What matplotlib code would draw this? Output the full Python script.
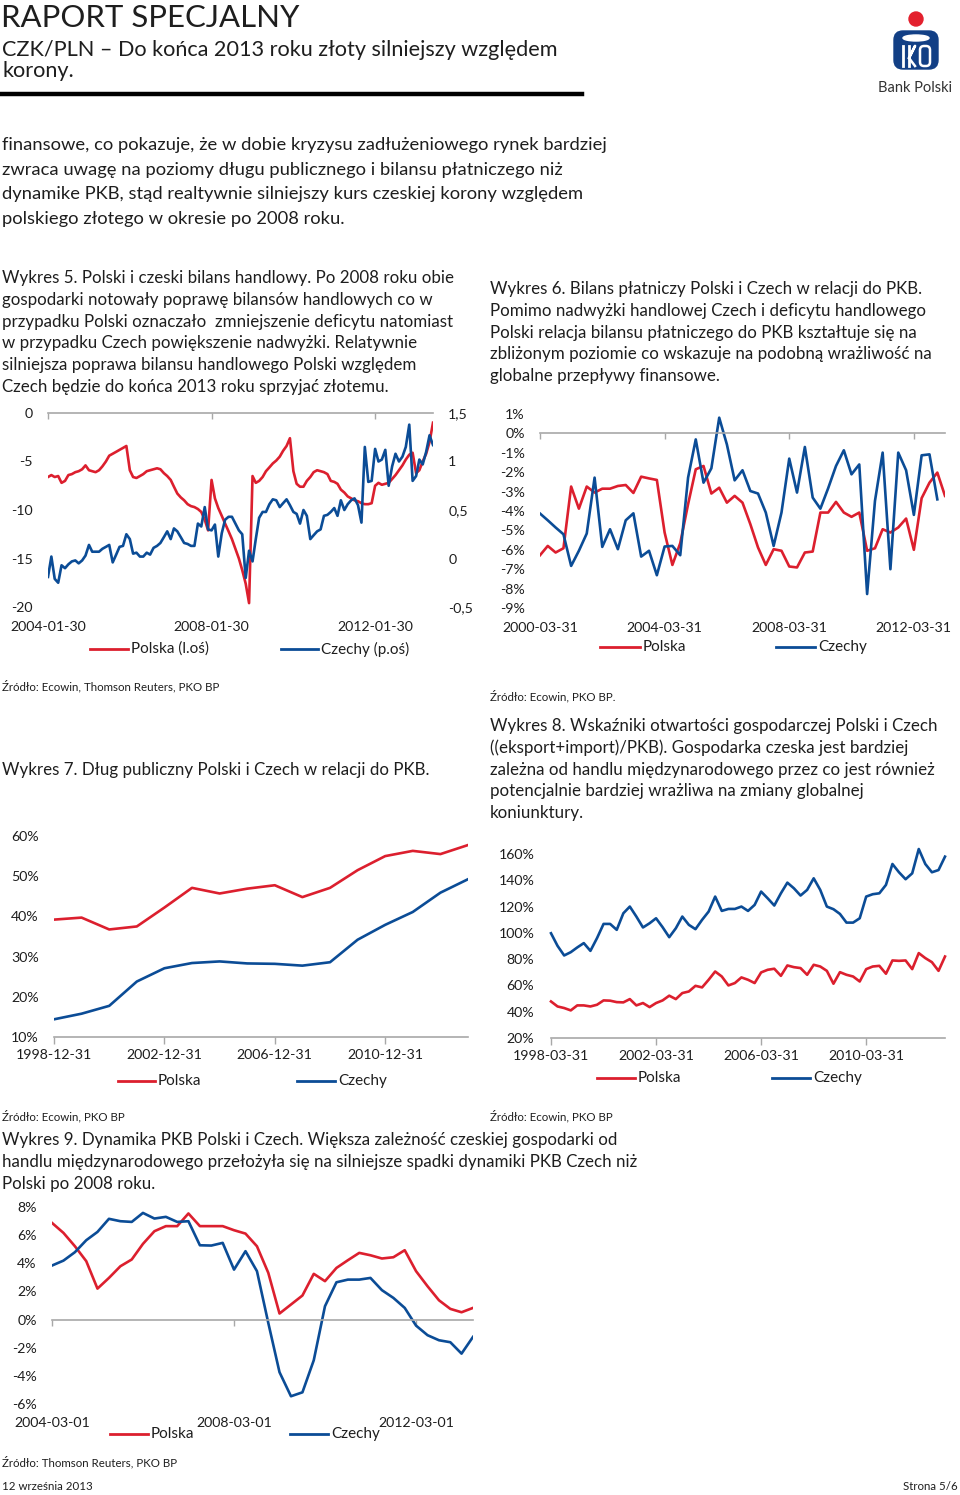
import numpy as np
import pandas as pd
import matplotlib
matplotlib.use("Agg")
import matplotlib.pyplot as plt
from matplotlib.lines import Line2D
from matplotlib.patches import Circle, FancyBboxPatch, Ellipse

W, H = 960, 1495
RED = "#dc1f2e"
BLUE = "#0b4c96"
GRAY = "#a8a8a8"
TXT = "#1e1e1e"
plt.rcParams["font.family"] = ["Lato", "DejaVu Sans"]

# Wykres 5: trade balance (monthly, 2004-01 .. 2013-06)
pl_trade = [-6.6, -6.4, -6.6, -6.5, -7.2, -7.0, -6.4, -6.3, -6.1, -6.0, -5.8, -5.4,
            -5.9, -6.0, -6.1, -5.9, -5.5, -5.0, -4.4, -4.2, -4.0, -3.8, -3.6, -3.4,
            -5.9, -6.6, -6.7, -6.5, -6.3, -6.0, -5.9, -5.8, -5.7, -5.8, -6.2, -6.5,
            -6.9, -7.6, -8.3, -8.7, -9.0, -9.4, -9.6, -9.7, -9.9, -10.2, -11.0, -12.1,
            -6.9, -8.8, -9.8, -10.6, -11.4, -12.2, -13.0, -14.0, -15.0, -16.2, -17.6, -19.6,
            -6.5, -7.2, -7.0, -6.6, -6.0, -5.6, -5.2, -4.9, -4.5, -3.9, -3.4, -2.6,
            -6.0, -7.3, -7.6, -7.6, -7.0, -6.6, -6.1, -5.9, -6.0, -6.1, -6.3, -7.0,
            -7.1, -7.3, -7.9, -8.2, -8.6, -8.8, -9.0, -9.1, -9.3, -9.4, -9.4, -9.3,
            -7.5, -7.2, -7.4, -7.3, -7.2, -6.8, -6.4, -5.9, -5.4, -4.8, -4.3, -4.1,
            -6.2, -5.9, -5.0, -4.2, -3.0, -1.0]
cz_trade = [-0.19, 0.02, -0.21, -0.25, -0.07, -0.10, -0.06, -0.03, -0.02, -0.05, -0.02, 0.03,
            0.14, 0.07, 0.07, 0.07, 0.10, 0.12, 0.14, -0.04, 0.04, 0.12, 0.13, 0.25,
            0.20, 0.05, 0.06, 0.02, 0.02, 0.06, 0.04, 0.11, 0.13, 0.16, 0.22, 0.28,
            0.20, 0.31, 0.28, 0.22, 0.16, 0.15, 0.13, 0.13, 0.36, 0.33, 0.53, 0.30,
            0.29, 0.35, 0.02, 0.26, 0.40, 0.43, 0.43, 0.36, 0.29, 0.25, -0.20, 0.08,
            -0.03, 0.20, 0.42, 0.48, 0.48, 0.56, 0.61, 0.60, 0.53, 0.57, 0.61, 0.55,
            0.48, 0.46, 0.36, 0.50, 0.44, 0.20, 0.24, 0.28, 0.30, 0.44, 0.45, 0.48,
            0.52, 0.44, 0.60, 0.50, 0.56, 0.60, 0.62, 0.55, 0.37, 1.15, 0.79, 0.80,
            1.13, 1.00, 1.02, 1.12, 0.75, 0.95, 1.08, 1.00, 1.05, 1.15, 1.38, 0.80,
            0.85, 1.02, 0.97, 1.10, 1.27, 1.17]
trade_dates = [pd.Timestamp("2004-01-30") + pd.DateOffset(months=i) for i in range(len(pl_trade))]

# Wykres 6: current account / GDP (quarterly, from 2000-03-31)
pl_ca = [-6.28, -5.8, -6.14, -5.92, -2.74, -3.88, -2.74, -3.05, -2.85, -2.85, -2.71, -2.66,
         -3.07, -2.23, -2.32, -2.4, -5.11, -6.78, -5.66, -3.65, -1.85, -1.68, -3.1, -2.8,
         -3.57, -3.22, -3.57, -4.68, -5.88, -6.78, -5.97, -6.05, -6.86, -6.91, -6.14, -6.09,
         -4.08, -4.08, -3.53, -4.08, -4.3, -4.08, -6.05, -5.92, -4.94, -5.11, -4.85, -4.39,
         -6.0, -3.34, -2.54, -2.02, -3.22]
cz_ca = [-4.13, -4.48, -4.85, -5.2, -6.83, -6.05, -5.16, -2.28, -5.85, -4.94, -5.97, -4.48,
         -4.12, -6.35, -6.05, -7.31, -5.83, -5.8, -6.28, -2.28, -0.31, -2.54, -1.8, 0.81,
         -0.57, -2.42, -1.9, -2.97, -3.1, -4.08, -5.8, -4.08, -1.3, -3.05, -0.7, -3.31,
         -3.88, -2.83, -1.68, -0.87, -2.11, -1.6, -8.28, -3.48, -0.99, -7.0, -0.99, -1.9,
         -4.2, -1.13, -1.08, -3.4]
ca_dates = [pd.Timestamp("2000-03-31") + pd.offsets.QuarterEnd(i) for i in range(len(pl_ca))]

# Wykres 7: public debt / GDP (annual, 1998..2013)
pl_debt = [39.2, 39.7, 36.75, 37.5, 42.2, 47.1, 45.7, 46.9, 47.75, 44.8, 47.1, 51.5,
           55.0, 56.3, 55.5, 57.75]
cz_debt = [14.4, 15.8, 17.75, 23.8, 27.1, 28.4, 28.8, 28.3, 28.2, 27.75, 28.6, 34.2,
           37.9, 41.1, 45.9, 49.25]
debt_dates = [pd.Timestamp("1998-12-31") + pd.offsets.YearEnd(i) for i in range(len(pl_debt))]

# Wykres 8: openness (quarterly, from 1998-03-31)
pl_open = [47.8, 44.0, 42.8, 41.0, 44.8, 44.8, 44.0, 45.3, 48.6, 48.4, 47.3, 47.1,
           49.6, 44.8, 46.6, 43.5, 46.6, 48.6, 52.2, 49.6, 54.2, 55.4, 59.7, 58.5,
           64.3, 70.6, 66.8, 60.0, 61.8, 66.1, 64.3, 61.8, 69.9, 71.9, 72.7, 67.3,
           75.2, 73.9, 73.2, 68.1, 75.7, 74.4, 71.1, 61.3, 70.1, 68.1, 66.8, 63.0,
           72.4, 74.4, 74.9, 68.9, 79.0, 78.7, 79.0, 72.4, 84.6, 80.8, 77.7, 71.1, 82.0]
cz_open = [99.7, 90.1, 82.8, 85.3, 88.9, 92.2, 86.3, 96.0, 106.8, 106.8, 102.3, 114.9,
           120.0, 112.4, 104.1, 107.3, 111.1, 104.3, 96.7, 103.5, 112.4, 106.1, 102.8, 109.9,
           116.2, 127.6, 116.7, 118.2, 118.2, 120.0, 116.7, 121.3, 131.4, 126.3, 120.8, 130.1,
           138.2, 133.9, 128.4, 132.7, 141.5, 132.7, 120.0, 118.0, 114.4, 107.8, 107.8, 111.1,
           127.6, 129.4, 130.1, 136.5, 152.4, 146.1, 140.8, 145.3, 163.8, 152.4, 146.1, 147.8,
           158.0]
open_dates = [pd.Timestamp("1998-03-31") + pd.offsets.QuarterEnd(i) for i in range(len(pl_open))]

# Wykres 9: GDP growth (quarterly, from 2004-03-01)
pl_gdp = [6.87, 6.16, 5.21, 4.15, 2.2, 2.96, 3.79, 4.27, 5.38, 6.28, 6.64, 6.64,
          7.54, 6.64, 6.64, 6.64, 6.35, 6.11, 5.21, 3.32, 0.43, 1.07, 1.71, 3.25,
          2.73, 3.67, 4.22, 4.74, 4.57, 4.34, 4.43, 4.93, 3.44, 2.37, 1.37, 0.76,
          0.52, 0.83]
cz_gdp = [3.84, 4.19, 4.79, 5.64, 6.23, 7.16, 6.99, 6.94, 7.58, 7.18, 7.30, 6.94,
          6.99, 5.28, 5.26, 5.45, 3.55, 4.86, 3.44, -0.24, -3.74, -5.45, -5.17, -2.89,
          0.95, 2.65, 2.84, 2.84, 2.96, 2.09, 1.54, 0.83, -0.43, -1.11, -1.47, -1.61,
          -2.42, -1.23]
gdp_dates = [pd.Timestamp("2004-03-01") + pd.DateOffset(months=3 * i) for i in range(len(pl_gdp))]

fig = plt.figure(figsize=(W / 100, H / 100), dpi=100)

TICK = 10.2   # tick label size
LEG = 11      # legend label size
CAP = 12.2    # chart caption size
SRC = 8.3     # source line size


def box(l, t, r, b):
    return fig.add_axes([l / W, 1 - b / H, (r - l) / W, (b - t) / H])


def ftext(x, y, s, size=11, **kw):
    kw.setdefault("color", TXT)
    kw.setdefault("va", "center")
    fig.text(x / W, 1 - y / H, s, fontsize=size, **kw)


def legend_row(y, items, size=LEG):
    for x0, x1, color, label in items:
        fig.add_artist(Line2D([x0 / W, x1 / W], [1 - y / H] * 2, color=color, lw=2.0,
                              transform=fig.transFigure))
        ftext(x1 + 3, y, label, size=size)


def base_style(ax, ypad=10):
    for s in ax.spines.values():
        s.set_visible(False)
    ax.tick_params(axis="y", length=0, pad=ypad, labelsize=TICK, colors=TXT)
    ax.tick_params(axis="x", labelsize=TICK, colors=TXT)
    ax.patch.set_alpha(0)


def axis_at(ax, yval, pad=10):
    # horizontal category axis drawn at a data value, labels kept at the bottom
    sp = ax.spines["top"]
    sp.set_visible(True)
    sp.set_position(("data", yval))
    sp.set_color(GRAY)
    sp.set_linewidth(1.2)
    ax.tick_params(axis="x", top=True, bottom=False, labeltop=False, labelbottom=True,
                   direction="in", length=4, width=1, color=GRAY, pad=pad)


def axis_bottom(ax):
    sp = ax.spines["bottom"]
    sp.set_visible(True)
    sp.set_color(GRAY)
    sp.set_linewidth(1.2)
    ax.tick_params(axis="x", bottom=True, direction="out", length=5, width=1, color=GRAY,
                   pad=3.5)


# ---------------- header ----------------
ftext(1, 18, "RAPORT SPECJALNY", size=22.4)
ftext(2, 50, "CZK/PLN – Do końca 2013 roku złoty silniejszy względem", size=15.6)
ftext(2, 71, "korony.", size=15.6)
fig.add_artist(Line2D([0, 582 / W], [1 - 94 / H] * 2, color="black", lw=3.2,
                      transform=fig.transFigure))

logo = box(870, 0, 960, 100)
logo.set_xlim(870, 960)
logo.set_ylim(100, 0)
logo.axis("off")
logo.add_patch(Circle((916, 19), 7, color="#e3202d"))
logo.add_patch(FancyBboxPatch((894, 31), 44, 38, boxstyle="round,pad=0,rounding_size=9",
                              color="#123f85"))
logo.add_patch(Ellipse((916, 38), 26, 6, color="white"))
logo.plot([903, 903], [46, 66], color="white", lw=2)
logo.plot([909, 909], [46, 66], color="white", lw=2)
logo.plot([909, 915, 909, 915], [58, 46, 58, 66], color="white", lw=1.8)
logo.add_patch(FancyBboxPatch((920, 46), 10, 20, boxstyle="round,pad=0,rounding_size=4",
                              fill=False, ec="white", lw=1.8))
ftext(915, 88, "Bank Polski", size=10.5, ha="center", color="#333333")

# ---------------- body text ----------------
body = ["finansowe, co pokazuje, że w dobie kryzysu zadłużeniowego rynek bardziej",
        "zwraca uwagę na poziomy długu publicznego i bilansu płatniczego niż",
        "dynamike PKB, stąd realtywnie silniejszy kurs czeskiej korony względem",
        "polskiego złotego w okresie po 2008 roku."]
for i, line in enumerate(body):
    ftext(2, 145 + i * 24.6, line, size=13.2)

cap5 = ["Wykres 5. Polski i czeski bilans handlowy. Po 2008 roku obie",
        "gospodarki notowały poprawę bilansów handlowych co w",
        "przypadku Polski oznaczało  zmniejszenie deficytu natomiast",
        "w przypadku Czech powiększenie nadwyżki. Relatywnie",
        "silniejsza poprawa bilansu handlowego Polski względem",
        "Czech będzie do końca 2013 roku sprzyjać złotemu."]
for i, line in enumerate(cap5):
    ftext(2, 278 + i * 21.8, line, size=CAP)

cap6 = ["Wykres 6. Bilans płatniczy Polski i Czech w relacji do PKB.",
        "Pomimo nadwyżki handlowej Czech i deficytu handlowego",
        "Polski relacja bilansu płatniczego do PKB kształtuje się na",
        "zbliżonym poziomie co wskazuje na podobną wrażliwość na",
        "globalne przepływy finansowe."]
for i, line in enumerate(cap6):
    ftext(490, 289 + i * 21.8, line, size=CAP)

ftext(2, 686, "Źródło: Ecowin, Thomson Reuters, PKO BP", size=SRC)
ftext(490, 696, "Źródło: Ecowin, PKO BP.", size=SRC)
ftext(2, 770, "Wykres 7. Dług publiczny Polski i Czech w relacji do PKB.", size=CAP)

cap8 = ["Wykres 8. Wskaźniki otwartości gospodarczej Polski i Czech",
        "((eksport+import)/PKB). Gospodarka czeska jest bardziej",
        "zależna od handlu międzynarodowego przez co jest również",
        "potencjalnie bardziej wrażliwa na zmiany globalnej",
        "koniunktury."]
for i, line in enumerate(cap8):
    ftext(490, 726 + i * 21.8, line, size=CAP)

ftext(2, 1116, "Źródło: Ecowin, PKO BP", size=SRC)
ftext(490, 1116, "Źródło: Ecowin, PKO BP", size=SRC)

cap9 = ["Wykres 9. Dynamika PKB Polski i Czech. Większa zależność czeskiej gospodarki od",
        "handlu międzynarodowego przełożyła się na silniejsze spadki dynamiki PKB Czech niż",
        "Polski po 2008 roku."]
for i, line in enumerate(cap9):
    ftext(2, 1140 + i * 22, line, size=CAP)

ftext(2, 1462, "Źródło: Thomson Reuters, PKO BP", size=SRC)
ftext(2, 1486, "12 września 2013", size=SRC)
ftext(958, 1486, "Strona 5/6", size=SRC, ha="right")

LW = 1.9

# ---------------- Wykres 5 ----------------
ax5 = box(48, 413, 433, 607)
base_style(ax5, ypad=11)
ax5.plot(trade_dates, pl_trade, color=RED, lw=LW)
ax5.set_xlim(trade_dates[0], trade_dates[-1])
ax5.set_ylim(-20, 0)
ax5.set_yticks([0, -5, -10, -15, -20], ["0", "-5", "-10", "-15", "-20"])
t5 = [pd.Timestamp(d) for d in ["2004-01-30", "2008-01-30", "2012-01-30"]]
ax5.set_xticks(t5, ["2004-01-30", "2008-01-30", "2012-01-30"])
axis_at(ax5, 0, pad=10)
ax5b = ax5.twinx()
base_style(ax5b, ypad=11)
ax5b.plot(trade_dates, cz_trade, color=BLUE, lw=LW)
ax5b.set_ylim(-0.5, 1.5)
ax5b.set_yticks([1.5, 1, 0.5, 0, -0.5], ["1,5", "1", "0,5", "0", "-0,5"])
legend_row(649, [(90, 128, RED, "Polska (l.oś)"), (281, 318, BLUE, "Czechy (p.oś)")])

# ---------------- Wykres 6 ----------------
ax6 = box(540, 414, 945, 608)
base_style(ax6, ypad=11)
ax6.plot(ca_dates, pl_ca, color=RED, lw=LW)
ax6.plot(ca_dates[:len(cz_ca)], cz_ca, color=BLUE, lw=LW)
ax6.set_xlim(ca_dates[0], ca_dates[-1])
ax6.set_ylim(-9, 1)
ax6.set_yticks(range(1, -10, -1), [f"{v}%" for v in range(1, -10, -1)])
t6 = [pd.Timestamp(d) for d in ["2000-03-31", "2004-03-31", "2008-03-31", "2012-03-31"]]
ax6.set_xticks(t6, [d.strftime("%Y-%m-%d") for d in t6])
axis_at(ax6, 0, pad=10)
legend_row(647, [(600, 640, RED, "Polska"), (776, 815, BLUE, "Czechy")])

# ---------------- Wykres 7 ----------------
ax7 = box(54, 836, 468, 1037)
base_style(ax7, ypad=11)
ax7.plot(debt_dates, pl_debt, color=RED, lw=LW)
ax7.plot(debt_dates, cz_debt, color=BLUE, lw=LW)
ax7.set_xlim(debt_dates[0], debt_dates[-1])
ax7.set_ylim(10, 60)
ax7.set_yticks(range(10, 61, 10), [f"{v}%" for v in range(10, 61, 10)])
t7 = [pd.Timestamp(d) for d in ["1998-12-31", "2002-12-31", "2006-12-31", "2010-12-31"]]
ax7.set_xticks(t7, [d.strftime("%Y-%m-%d") for d in t7])
axis_bottom(ax7)
legend_row(1081, [(118, 155, RED, "Polska"), (297, 335, BLUE, "Czechy")])

# ---------------- Wykres 8 ----------------
ax8 = box(551, 854, 945, 1038)
base_style(ax8, ypad=12)
ax8.plot(open_dates, pl_open, color=RED, lw=LW, clip_on=False)
ax8.plot(open_dates, cz_open, color=BLUE, lw=LW, clip_on=False)
ax8.set_xlim(open_dates[0], open_dates[-1])
ax8.set_ylim(20, 160)
ax8.set_yticks(range(20, 161, 20), [f"{v}%" for v in range(20, 161, 20)])
t8 = [pd.Timestamp(d) for d in ["1998-03-31", "2002-03-31", "2006-03-31", "2010-03-31"]]
ax8.set_xticks(t8, [d.strftime("%Y-%m-%d") for d in t8])
axis_bottom(ax8)
legend_row(1078, [(597, 635, RED, "Polska"), (772, 810, BLUE, "Czechy")])

# ---------------- Wykres 9 ----------------
ax9 = box(52, 1207, 473, 1404)
base_style(ax9, ypad=11)
ax9.plot(gdp_dates, pl_gdp, color=RED, lw=LW)
ax9.plot(gdp_dates, cz_gdp, color=BLUE, lw=LW)
ax9.set_xlim(gdp_dates[0], gdp_dates[-1])
ax9.set_ylim(-6, 8)
ax9.set_yticks(range(-6, 9, 2), [f"{v}%" for v in range(-6, 9, 2)])
t9 = [pd.Timestamp(d) for d in ["2004-03-01", "2008-03-01", "2012-03-01"]]
ax9.set_xticks(t9, [d.strftime("%Y-%m-%d") for d in t9])
axis_at(ax9, 0, pad=9.5)
legend_row(1434, [(110, 148, RED, "Polska"), (290, 328, BLUE, "Czechy")])

fig.savefig("out.png", dpi=100)
